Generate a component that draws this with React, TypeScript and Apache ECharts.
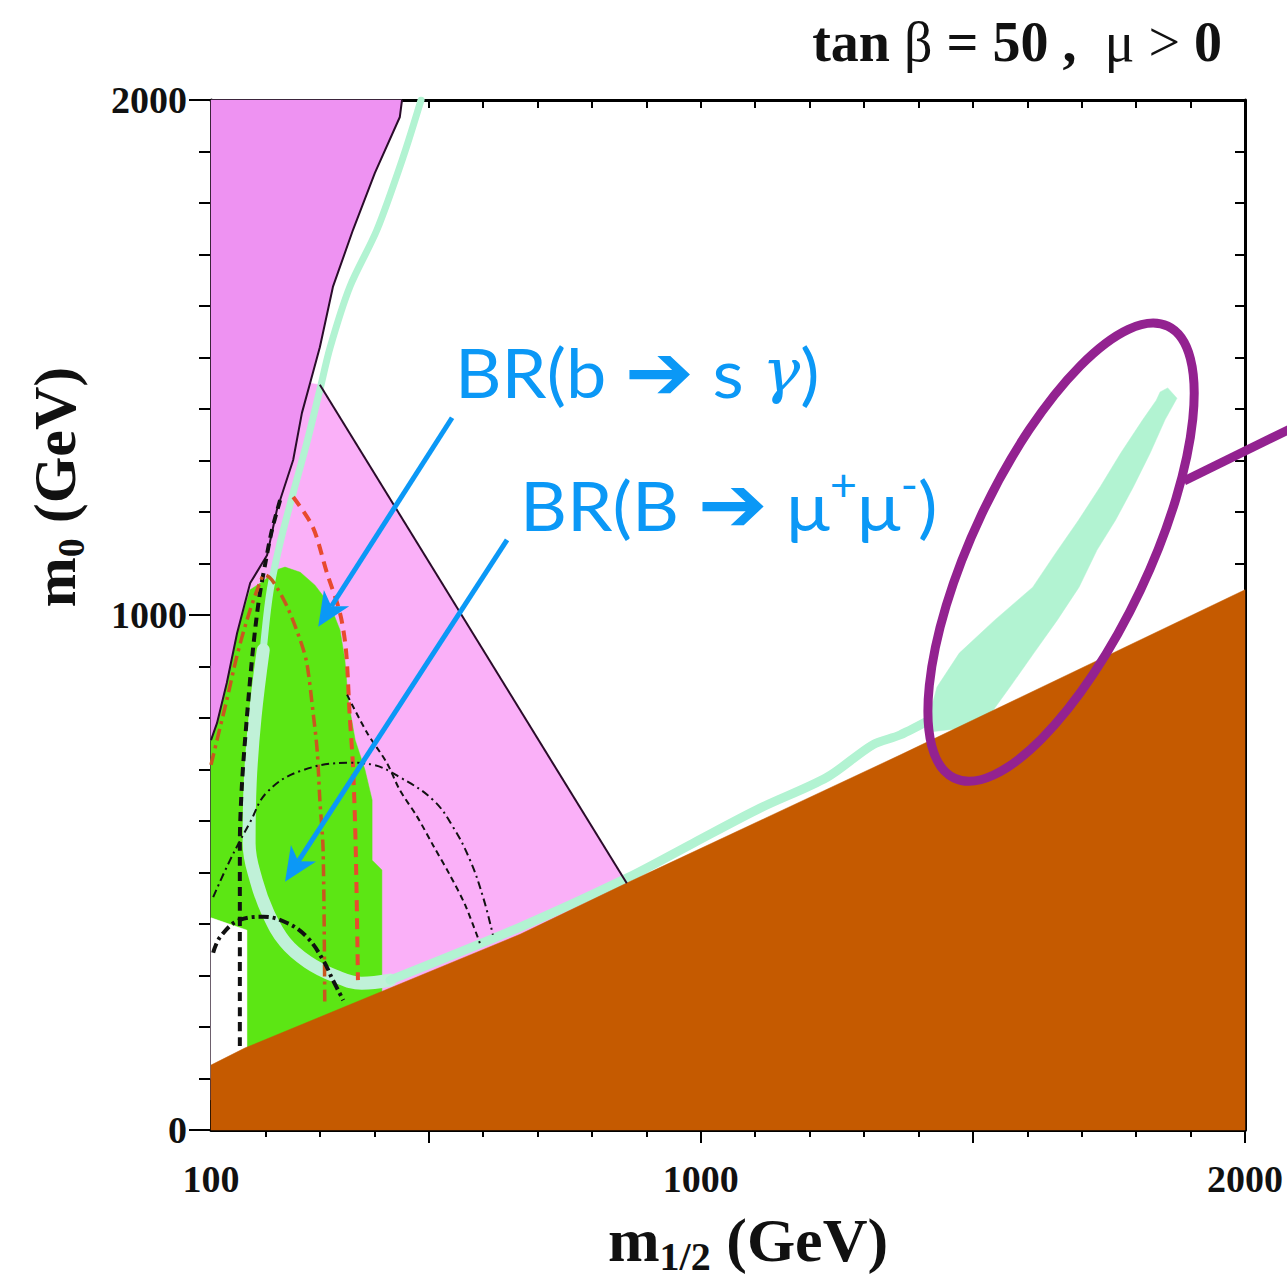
import React, { useEffect, useRef } from 'react';
import * as echarts from 'echarts';

// ---------- axis ticks / labels ----------
const xMinorTicks = [200, 300, 400, 600, 700, 800, 900, 1100, 1200, 1300, 1400, 1600, 1700, 1800, 1900];
const xMajorTicks = [500, 1000, 1500, 2000];
const xTopTicks = [200, 300, 400, 500, 600, 700, 800, 900, 1000, 1100, 1200, 1300, 1400, 1500, 1600, 1700, 1800, 1900];
const xLabels = [100, 1000, 2000];
const yMinorTicks = [100, 200, 300, 400, 500, 600, 700, 800, 900, 1100, 1200, 1300, 1400, 1500, 1600, 1700, 1800, 1900];
const yMajorTicks = [0, 1000, 2000];
const yRightTicks = [100, 200, 300, 400, 500, 600, 700, 800, 900, 1000, 1100, 1200, 1300, 1400, 1500, 1600, 1700, 1800, 1900];
const yLabels = [0, 1000, 2000];

// ---------- regions (m1/2, m0) in GeV ----------
const magentaRegion = [[100, 2000], [451, 2000], [447, 1967], [401, 1858], [361, 1748], [324, 1637], [300, 1520], [282, 1450], [267, 1392], [251, 1301], [221, 1204], [203, 1116], [172, 1062], [148, 965], [129, 868], [111, 790], [100, 757]];
const magentaEdge = [[451, 2000], [447, 1967], [401, 1858], [361, 1748], [324, 1637], [300, 1520], [282, 1450], [267, 1392], [251, 1301], [221, 1204], [203, 1116], [172, 1062], [148, 965], [129, 868], [111, 790], [100, 757]];
const pinkRegion = [[300, 1447], [888, 439], [100, 58], [100, 900], [282, 1450]];
const pinkEdge = [[300, 1447], [864, 479]];
const greenRegion = [[199, 1068], [218, 1087], [236, 1093], [264, 1083], [291, 1058], [319, 1019], [337, 971], [346, 913], [352, 835], [365, 757], [383, 699], [396, 641], [396, 524], [414, 505], [414, 252], [166, 136], [166, 388], [100, 412], [100, 757], [111, 790], [129, 868], [148, 965], [172, 1049]];
const whiteRegion = [[100, 412], [166, 388], [166, 120], [100, 100]];
const brownRegion = [[100, 0], [100, 126], [162, 159], [668, 380], [861, 478], [1366, 728], [2000, 1049], [2000, 0]];

const mintTop = [[486, 2000], [453, 1889], [405, 1748], [355, 1637], [319, 1520], [300, 1437], [276, 1334], [251, 1237], [227, 1140], [208, 1043], [196, 932]];
const mintCurve = [[196, 932], [181, 802], [172, 674], [170, 557], [183, 485], [205, 421], [236, 365], [278, 326], [328, 299], [377, 285], [429, 291]];
const mintStrip = [[429, 291], [668, 394], [864, 489], [986, 557], [1109, 625], [1232, 685], [1316, 748], [1366, 767], [1427, 800]];
const mintBlob = [[1844, 1433], [1858, 1441], [1875, 1421], [1853, 1379], [1826, 1315], [1795, 1249], [1762, 1184], [1728, 1126], [1695, 1054], [1655, 990], [1612, 926], [1568, 860], [1531, 806], [1495, 782], [1421, 773], [1421, 810], [1434, 860], [1475, 926], [1540, 990], [1610, 1054], [1652, 1120], [1694, 1184], [1734, 1249], [1772, 1315], [1812, 1379], [1837, 1417]];

// ---------- contours ----------
const thickBlackDash = [[227, 1223], [212, 1165], [201, 1107], [188, 1029], [177, 932], [166, 802], [157, 674], [153, 557], [153, 161]];
const redDash = [[251, 1229], [287, 1171], [313, 1082], [337, 1004], [348, 932], [355, 802], [361, 705], [366, 544], [370, 291]];
const redDashDot = [[100, 709], [111, 757], [129, 835], [148, 922], [166, 990], [185, 1049], [199, 1078], [212, 1068], [240, 1016], [264, 951], [276, 907], [287, 816], [295, 738], [300, 641], [306, 544], [309, 247]];
const bigArc = [[104, 452], [135, 524], [172, 598], [203, 656], [264, 697], [355, 713], [398, 709], [447, 685], [508, 641], [545, 588], [576, 524], [600, 452], [618, 379]];
const thinDash = [[350, 845], [387, 771], [423, 713], [447, 660], [479, 608], [508, 553], [539, 495], [567, 437], [594, 363]];
const smallArc = [[104, 344], [117, 375], [153, 408], [196, 414], [240, 402], [276, 375], [306, 330], [324, 291], [343, 252]];

// ---------- annotations ----------
const arrowBsg = [[543, 1383], [297, 977]];
const arrowBmm = [[644, 1146], [236, 482]];
const ellipseCenter = [1662, 1122];

const C = {
  magenta: '#EE92F2',
  pink: '#FAB0F8',
  green: '#5CE614',
  mint: '#B2F3D2',
  mintBand: '#C0F1D8',
  brown: '#C55A00',
  red: '#E84A2E',
  redDark: '#C9571F',
  black: '#111111',
  edge: '#2a0c2a',
  blue: '#0B98F6',
  purple: '#932290',
};

function polySeries(pts: number[][], fill: string, z: number) {
  return {
    type: 'custom',
    coordinateSystem: 'cartesian2d',
    xAxisIndex: 0,
    yAxisIndex: 0,
    silent: true,
    z,
    data: pts,
    encode: { x: 0, y: 1 },
    renderItem: (params: any, api: any) => {
      if (params.dataIndex !== 0) return null;
      const points = pts.map((p) => api.coord(p));
      return { type: 'polygon', shape: { points }, style: { fill, stroke: fill, lineWidth: 0.5 } };
    },
  };
}

function lineSeries(pts: number[][], color: string, width: number, type: any, z: number, smooth = 0.3, cap = 'butt') {
  return {
    type: 'line',
    xAxisIndex: 0,
    yAxisIndex: 0,
    data: pts,
    silent: true,
    showSymbol: false,
    symbol: 'none',
    smooth,
    z,
    lineStyle: { color, width, type, cap, join: 'round' },
  };
}

const serif = 'Liberation Serif, Times New Roman, serif';
const plain = (v: number) => String(v);

export default function App() {
  const ref = useRef<HTMLDivElement>(null);
  useEffect(() => {
    document.body.style.margin = '0';
    const chart = echarts.init(ref.current!, null, { renderer: 'svg' });
    const axisLabelStyle = { fontFamily: serif, fontWeight: 'bold', fontSize: 38, color: '#111', formatter: plain };
    chart.setOption({
      animation: false,
      backgroundColor: '#ffffff',
      grid: { left: 211, top: 100, width: 1034, height: 1030 },
      xAxis: [
        {
          type: 'value', min: 100, max: 2000, interval: 100, position: 'bottom',
          axisLine: { show: true, onZero: false, lineStyle: { color: '#000', width: 3 } },
          axisTick: { show: true, inside: false, length: 7, customValues: xMinorTicks, lineStyle: { color: '#000', width: 2 } },
          axisLabel: { show: true, customValues: xLabels, margin: 30, ...axisLabelStyle },
          splitLine: { show: false },
        },
        {
          type: 'value', min: 100, max: 2000, interval: 100, position: 'bottom',
          axisLine: { show: false, onZero: false },
          axisTick: { show: true, inside: false, length: 13, customValues: xMajorTicks, lineStyle: { color: '#000', width: 2 } },
          axisLabel: { show: false },
          splitLine: { show: false },
        },
        {
          type: 'value', min: 100, max: 2000, interval: 100, position: 'top',
          axisLine: { show: true, onZero: false, lineStyle: { color: '#000', width: 3 } },
          axisTick: { show: true, inside: true, length: 8, customValues: xTopTicks, lineStyle: { color: '#000', width: 2 } },
          axisLabel: { show: false },
          splitLine: { show: false },
        },
      ],
      yAxis: [
        {
          type: 'value', min: 0, max: 2000, interval: 100, position: 'left',
          axisLine: { show: true, onZero: false, lineStyle: { color: '#000', width: 3 } },
          axisTick: { show: true, inside: false, length: 12, customValues: yMinorTicks, lineStyle: { color: '#000', width: 2 } },
          axisLabel: { show: true, customValues: yLabels, margin: 24, ...axisLabelStyle },
          splitLine: { show: false },
        },
        {
          type: 'value', min: 0, max: 2000, interval: 100, position: 'left',
          axisLine: { show: false, onZero: false },
          axisTick: { show: true, inside: false, length: 22, customValues: yMajorTicks, lineStyle: { color: '#000', width: 2 } },
          axisLabel: { show: false },
          splitLine: { show: false },
        },
        {
          type: 'value', min: 0, max: 2000, interval: 100, position: 'right',
          axisLine: { show: true, onZero: false, lineStyle: { color: '#000', width: 3 } },
          axisTick: { show: true, inside: true, length: 10, customValues: yRightTicks, lineStyle: { color: '#000', width: 2 } },
          axisLabel: { show: false },
          splitLine: { show: false },
        },
      ],
      series: [
        polySeries(pinkRegion, C.pink, 1),
        polySeries(magentaRegion, C.magenta, 2),
        polySeries(greenRegion, C.green, 3),
        polySeries(whiteRegion, '#ffffff', 4),
        lineSeries(mintTop, C.mint, 7, 'solid', 5, 0.3, 'round'),
        lineSeries(mintCurve, C.mintBand, 13, 'solid', 5, 0.4, 'round'),
        lineSeries(mintStrip, C.mint, 9, 'solid', 5, 0.3, 'round'),
        polySeries(mintBlob, C.mint, 5),
        polySeries(brownRegion, C.brown, 6),
        lineSeries(magentaEdge, C.edge, 2, 'solid', 7, 0),
        lineSeries(pinkEdge, C.edge, 2, 'solid', 7, 0),
        lineSeries(thickBlackDash, C.black, 4, [9, 6], 8, 0.3),
        lineSeries(redDash, C.red, 4, [11, 7], 8, 0.3),
        lineSeries(redDashDot, C.redDark, 3.5, [12, 5, 3, 5], 8, 0.3),
        lineSeries(bigArc, C.black, 2, [8, 4, 2, 4], 8, 0.4),
        lineSeries(thinDash, C.black, 2, [6, 4], 8, 0.3),
        lineSeries(smallArc, C.black, 4, [10, 4, 3, 4], 8, 0.4),
      ],
    });

    const px = (p: number[]) => chart.convertToPixel({ xAxisIndex: 0, yAxisIndex: 0 }, p) as unknown as number[];

    const arrow = (pts: number[][]) => {
      const s = px(pts[0]);
      const t = px(pts[1]);
      const dx = t[0] - s[0];
      const dy = t[1] - s[1];
      const len = Math.sqrt(dx * dx + dy * dy);
      const ux = dx / len;
      const uy = dy / len;
      const nx = -uy;
      const ny = ux;
      const L = 34;
      const W = 30;
      const notch = L * 0.72;
      return [
        {
          type: 'line', z: 20, silent: true,
          shape: { x1: s[0], y1: s[1], x2: t[0] - ux * notch, y2: t[1] - uy * notch },
          style: { stroke: C.blue, lineWidth: 5 },
        },
        {
          type: 'polygon', z: 20, silent: true,
          shape: {
            points: [
              [t[0], t[1]],
              [t[0] - ux * L + nx * W / 2, t[1] - uy * L + ny * W / 2],
              [t[0] - ux * notch, t[1] - uy * notch],
              [t[0] - ux * L - nx * W / 2, t[1] - uy * L - ny * W / 2],
            ],
          },
          style: { fill: C.blue },
        },
      ];
    };

    const ec = px(ellipseCenter);
    const blueText = { fontFamily: 'Lato, Open Sans, sans-serif', fontSize: 68, fill: C.blue, lineHeight: 84 };
    const arrowText = { fontFamily: 'DejaVu Sans', fontSize: 78, fill: C.blue, lineHeight: 84 };

    chart.setOption({
      graphic: [
        ...arrow(arrowBsg),
        ...arrow(arrowBmm),
        {
          type: 'ellipse', z: 21, silent: true,
          x: ec[0], y: ec[1], rotation: 1.13,
          shape: { cx: 0, cy: 0, rx: 250, ry: 88 },
          style: { fill: 'none', stroke: C.purple, lineWidth: 9 },
        },
        {
          type: 'line', z: 21, silent: true,
          shape: { x1: 1184, y1: 481, x2: 1292, y2: 428 },
          style: { stroke: C.purple, lineWidth: 9 },
        },
        {
          type: 'text', z: 22, silent: true, x: 455, y: 372, scaleX: 1.06,
          style: {
            text: '{a|BR(b }{r|➔}{a| s }{g|γ}{a|)}',
            align: 'left', verticalAlign: 'middle',
            rich: {
              a: blueText,
              r: arrowText,
              g: { fontFamily: 'DejaVu Serif', fontStyle: 'italic', fontSize: 60, fill: C.blue, lineHeight: 84 },
            },
          },
        },
        {
          type: 'text', z: 22, silent: true, x: 520, y: 504, scaleX: 1.07,
          style: {
            text: '{a|BR(B }{r|➔}{a| μ}{s|+}{a|μ}{s|-}{a|)}',
            align: 'left', verticalAlign: 'middle',
            rich: {
              a: blueText,
              r: arrowText,
              s: { fontFamily: 'Lato, Open Sans, sans-serif', fontSize: 44, fill: C.blue, lineHeight: 56, verticalAlign: 'top' },
            },
          },
        },
        {
          type: 'text', z: 22, silent: true, x: 1222, y: 42,
          style: {
            text: '{b|tan }{r|β}{b| = 50 ,  }{r|μ > }{b|0}',
            align: 'right', verticalAlign: 'middle',
            rich: {
              b: { fontFamily: serif, fontWeight: 'bold', fontSize: 56, fill: '#111' },
              r: { fontFamily: serif, fontSize: 56, fill: '#111' },
            },
          },
        },
        {
          type: 'text', z: 22, silent: true, x: 748, y: 1240,
          style: {
            text: '{m|m}{s|1/2}{m| (GeV)}',
            align: 'center', verticalAlign: 'middle',
            rich: {
              m: { fontFamily: serif, fontWeight: 'bold', fontSize: 62, fill: '#111', lineHeight: 72 },
              s: { fontFamily: serif, fontWeight: 'bold', fontSize: 40, fill: '#111', lineHeight: 40, verticalAlign: 'bottom' },
            },
          },
        },
        {
          type: 'text', z: 22, silent: true, x: 55, y: 487, rotation: Math.PI / 2,
          style: {
            text: '{m|m}{s|0}{m| (GeV)}',
            align: 'center', verticalAlign: 'middle',
            rich: {
              m: { fontFamily: serif, fontWeight: 'bold', fontSize: 60, fill: '#111', lineHeight: 70 },
              s: { fontFamily: serif, fontWeight: 'bold', fontSize: 38, fill: '#111', lineHeight: 38, verticalAlign: 'bottom' },
            },
          },
        },
      ],
    });

    return () => chart.dispose();
  }, []);
  return <div ref={ref} style={{ width: 1287, height: 1277 }} />;
}
